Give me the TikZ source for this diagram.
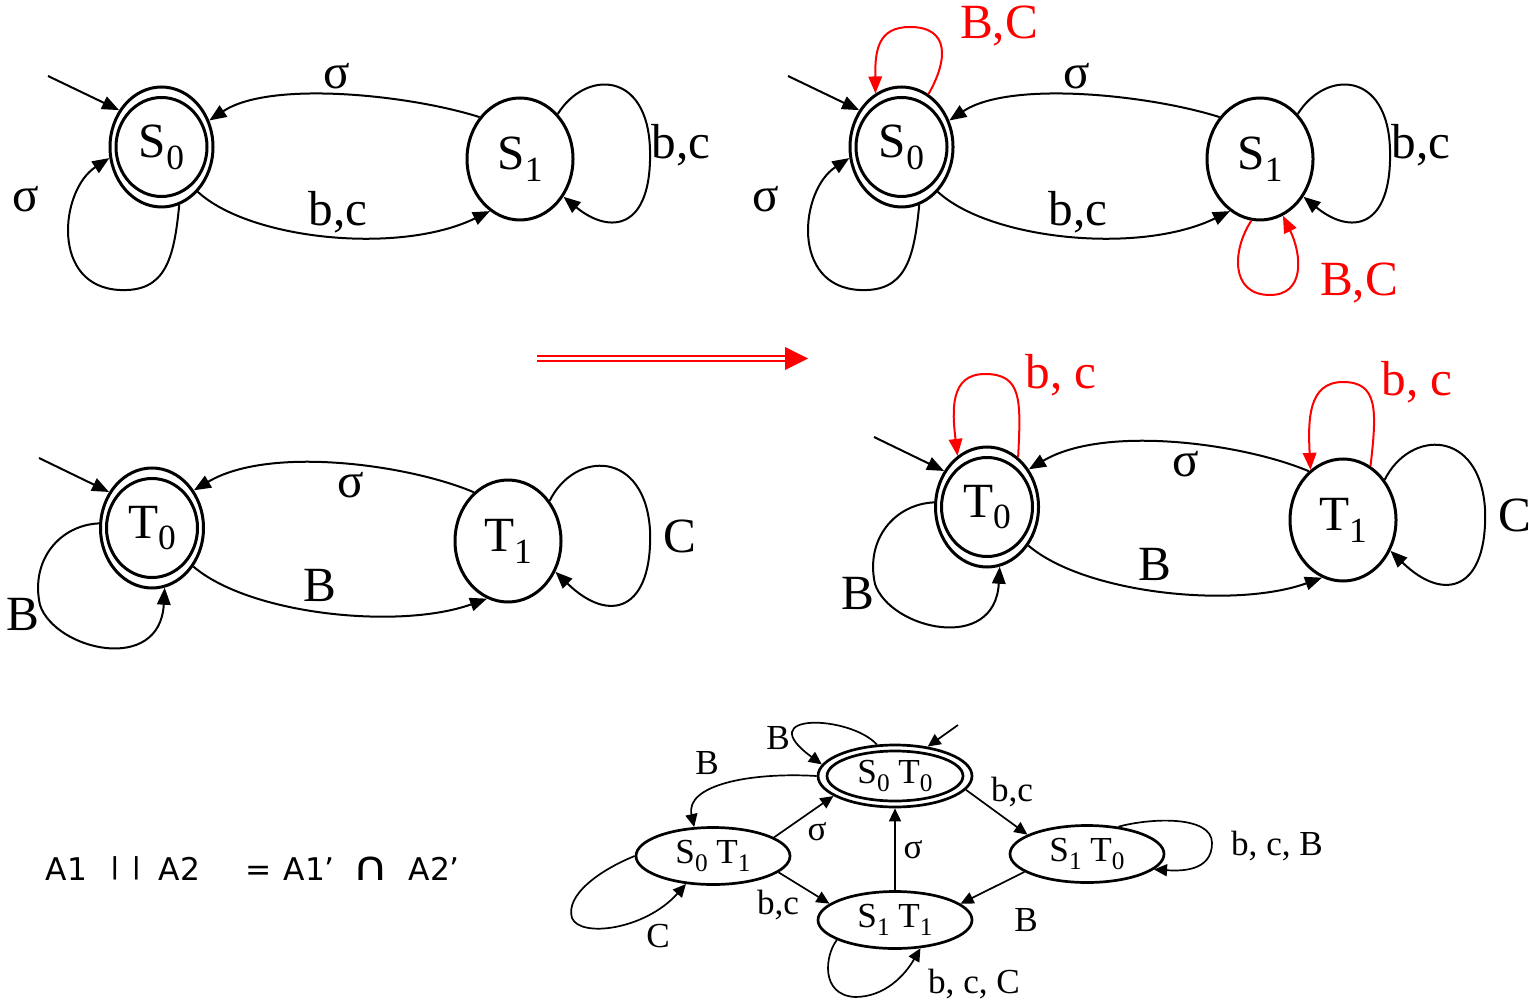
\documentclass[tikz,border=0pt]{standalone}
\usepackage{fontspec}
\setmainfont{Liberation Serif}
\newfontfamily\lawfont{DejaVu Sans}
\usetikzlibrary{shapes.geometric,arrows.meta}
\newcommand{\lowsub}[1]{\raisebox{-0.24em}{\scalebox{0.72}{#1}}}

\begin{document}
\begin{tikzpicture}[x=0.1mm, y=-0.1mm, >={Triangle[length=1.7mm,width=1.35mm]},
		st/.style={ellipse, draw, line width=0.3mm, inner sep=0pt,
			minimum width=10.6mm, minimum height=12.2mm, font=\fontsize{14}{16}\selectfont},
		acc/.style={st, minimum width=10.3mm, minimum height=12mm},
		ring/.style={ellipse, draw, line width=0.3mm, inner sep=0pt,
			minimum width=9.1mm, minimum height=9.9mm},
		pst/.style={ellipse, draw, line width=0.27mm, inner sep=0pt,
			minimum width=15.4mm, minimum height=5.7mm, font=\fontsize{10}{12}\selectfont},
		pacc/.style={pst, minimum height=6.2mm},
		pring/.style={ellipse, draw, line width=0.27mm, inner sep=0pt,
			minimum width=13.6mm, minimum height=5mm},
		trans/.style={->, line width=0.2mm},
		hot/.style={trans, red},
		ptrans/.style={-{Triangle[length=1.3mm,width=1.2mm]}, line width=0.17mm},
		lbl/.style={inner sep=0pt, font=\fontsize{14}{16}\selectfont},
		plbl/.style={inner sep=0pt, font=\fontsize{10}{12}\selectfont}]
	\useasboundingbox (0,0) rectangle (1529,1004);

	% A1
	\node[acc] (s0) at (161.5,147) {S\lowsub{0}};
	\node[ring] (s0in) at (s0) {};
	\node[st] (s1) at (520,159) {S\lowsub{1}};
	\coordinate (s0init) at (48,76);
	\draw[trans] (s0init) -- (s0.139);
	\draw[trans] (s1.134) .. controls (410,95) and (270,80) .. (s0.29);
	\draw[trans] (s0.-51) .. controls (250,240) and (400,255) .. (s1.-120);
	\draw[trans] (s1.50) .. controls (585,70) and (648,70) .. (650,150)
		.. controls (652,230) and (610,235) .. (s1.-41);
	\draw[trans] (s0.-73) .. controls (174,260) and (165,292) .. (120,290)
		.. controls (50,287) and (60,190) .. (s0.-168);
	\node[lbl] (s0s1) at (337,76) {σ};
	\node[lbl] (s1s0) at (338,212) {b,c};
	\node[lbl] (s1s1) at (681,145) {b,c};
	\node[lbl] (s0s0) at (26,199) {σ};

	% A1'
	\begin{scope}[shift={(740,0)}]
		\node[acc] (s0r) at (161.5,147) {S\lowsub{0}};
		\node[ring] (s0rin) at (s0r) {};
		\node[st] (s1r) at (520,159) {S\lowsub{1}};
		\coordinate (s0rinit) at (48,76);
		\draw[trans] (s0rinit) -- (s0r.139);
		\draw[trans] (s1r.134) .. controls (410,95) and (270,80) .. (s0r.29);
		\draw[trans] (s0r.-51) .. controls (250,240) and (400,255) .. (s1r.-120);
		\draw[trans] (s1r.50) .. controls (585,70) and (648,70) .. (650,150)
			.. controls (652,230) and (610,235) .. (s1r.-41);
		\draw[trans] (s0r.-73) .. controls (174,260) and (165,292) .. (120,290)
			.. controls (50,287) and (60,190) .. (s0r.-168);
		\node[lbl] (s0rs1r) at (337,76) {σ};
		\node[lbl] (s1rs0r) at (338,212) {b,c};
		\node[lbl] (s1rs1r) at (681,145) {b,c};
		\node[lbl] (s0rs0r) at (26,199) {σ};
	\end{scope}
	\draw[hot] (s0r.63) .. controls (948,60) and (950,27) .. (910,27)
		.. controls (878,27) and (875,50) .. (s0r.116);
	\draw[hot] (s1r.-98) .. controls (1232,250) and (1230,295) .. (1270,295)
		.. controls (1305,295) and (1302,255) .. (s1r.-68);
	\node[lbl, red] (s0rnew) at (999,26) {B,C};
	\node[lbl, red] (s1rnew) at (1359,283) {B,C};

	% becomes
	\coordinate (arrA) at (537,358.5);
	\coordinate (arrB) at (808,358.5);
	\draw[red, line width=0.23mm, double=white, double distance=0.27mm]
		(arrA) -- ([xshift=-2mm]arrB);
	\fill[red] (arrB) -- ++(-23,-11.5) -- ++(0,23) -- cycle;

	% A2
	\node[acc] (t0) at (152,528) {T\lowsub{0}};
	\node[ring] (t0in) at (t0) {};
	\node[st] (t1) at (508,541) {T\lowsub{1}};
	\coordinate (t0init) at (39,458);
	\draw[trans] (t0init) -- (t0.140);
	\draw[trans] (t1.125) .. controls (410,465) and (270,445) .. (t0.42);
	\draw[trans] (t0.-43) .. controls (250,615) and (400,630) .. (t1.-110);
	\draw[trans] (t1.44) .. controls (575,450) and (645,450) .. (650,530)
		.. controls (653,610) and (610,625) .. (t1.-33);
	\draw[trans] (t0.175) .. controls (60,525) and (30,560) .. (40,605)
		.. controls (55,650) and (160,675) .. (t0.-78);
	\node[lbl] (t1t0) at (351,485) {σ};
	\node[lbl] (t0t1) at (320,585) {B};
	\node[lbl] (t1t1) at (680,536) {C};
	\node[lbl] (t0t0) at (23,614) {B};

	% A2'
	\begin{scope}[shift={(835,-21)}]
		\node[acc] (t0r) at (152,528) {T\lowsub{0}};
		\node[ring] (t0rin) at (t0r) {};
		\node[st] (t1r) at (508,541) {T\lowsub{1}};
		\coordinate (t0rinit) at (39,458);
		\draw[trans] (t0rinit) -- (t0r.140);
		\draw[trans] (t1r.125) .. controls (410,465) and (270,445) .. (t0r.42);
		\draw[trans] (t0r.-43) .. controls (250,615) and (400,630) .. (t1r.-110);
		\draw[trans] (t1r.44) .. controls (575,450) and (645,450) .. (650,530)
			.. controls (653,610) and (610,625) .. (t1r.-33);
		\draw[trans] (t0r.175) .. controls (60,525) and (30,560) .. (40,605)
			.. controls (55,650) and (160,675) .. (t0r.-78);
		\node[lbl] (t1rt0r) at (351,485) {σ};
		\node[lbl] (t0rt1r) at (320,585) {B};
		\node[lbl] (t1rt1r) at (680,536) {C};
		\node[lbl] (t0rt0r) at (23,614) {B};
	\end{scope}
	\draw[hot] (t0r.58) .. controls (1021,400) and (1022,374) .. (985,374)
		.. controls (950,374) and (952,410) .. (t0r.120);
	\draw[hot] (t1r.63) .. controls (1377,410) and (1378,382) .. (1343,382)
		.. controls (1308,382) and (1308,420) .. (t1r.123);
	\node[lbl, red] (t0rnew) at (1061,375) {b, c};
	\node[lbl, red] (t1rnew) at (1417,382) {b, c};

	% A1' x A2'
	\node[pacc] (p00) at (895,776) {S\lowsub{0} T\lowsub{0}};
	\node[pring] (p00in) at (p00) {};
	\node[pst] (p01) at (713,856) {S\lowsub{0} T\lowsub{1}};
	\node[pst] (p11) at (895,920) {S\lowsub{1} T\lowsub{1}};
	\node[pst] (p10) at (1087,854) {S\lowsub{1} T\lowsub{0}};
	\coordinate (p00init) at (958,725);
	\draw[ptrans] (p00init) -- (p00.42);
	\draw[ptrans] (p00.120) .. controls (850,715) and (750,712) .. (p00.171);
	\draw[ptrans] (p00.180) .. controls (750,772) and (685,785) .. (p01.123);
	\draw[ptrans] (p01.17) -- (p00.198);
	\draw[ptrans] (p01.-14) -- (p11.166);
	\draw[ptrans] (p11.north) -- (p00.south);
	\draw[ptrans] (p00.-11) -- (p10.162);
	\draw[ptrans] (p10.196) -- (p11.14);
	\draw[ptrans] (p01.180) .. controls (600,870) and (565,895) .. (572,918)
		.. controls (580,938) and (645,930) .. (p01.-134);
	\draw[ptrans] (p11.199) .. controls (825,955) and (820,995) .. (855,997)
		.. controls (885,997) and (905,975) .. (p11.-48);
	\draw[ptrans] (p10.41) .. controls (1150,818) and (1212,815) .. (1212,843)
		.. controls (1212,872) and (1180,871) .. (p10.-13);
	\node[plbl] (p00p00) at (778,738) {B};
	\node[plbl] (p00p01) at (707,763) {B};
	\node[plbl] (p01p00) at (817,832) {σ};
	\node[plbl] (p11p00) at (913,850) {σ};
	\node[plbl] (p01p11) at (778,905) {b,c};
	\node[plbl] (p01p01) at (658,936) {C};
	\node[plbl] (p11p11) at (974,984) {b, c, C};
	\node[plbl] (p00p10) at (1012,792) {b,c};
	\node[plbl] (p10p10) at (1277,846) {b, c, B};
	\node[plbl] (p10p11) at (1026,920) {B};

	% law
	\node[anchor=base west, inner sep=0pt, font=\lawfont\fontsize{8.9}{10}\selectfont] (law) at (45,880)
		{\makebox[6.4mm][l]{A1}\makebox[4.9mm][l]{\raisebox{1.6pt}{\scalebox{1}[0.75]{|}}\hspace{1.1mm}\raisebox{1.6pt}{\scalebox{1}[0.75]{|}}}%
		\makebox[8.7mm][l]{A2}\makebox[3.8mm][l]{=}\makebox[6.9mm][l]{A1’}\makebox[5.6mm][l]{\scalebox{1.6}[1.3]{∩}}A2’};
\end{tikzpicture}
\end{document}
